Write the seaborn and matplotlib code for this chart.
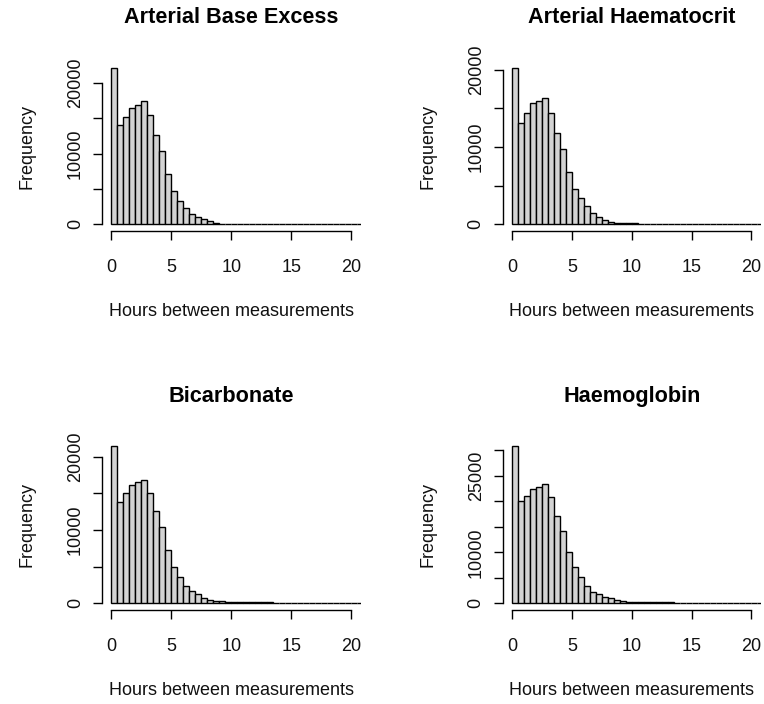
import numpy as np
import pandas as pd
import matplotlib
matplotlib.use("Agg")
import matplotlib.pyplot as plt
import seaborn as sns

sns.set_style("white")
plt.rcParams["font.family"] = ["Liberation Sans", "DejaVu Sans"]

# Histogram bins: half-hour intervals from 0 to 21 hours
bin_width = 0.5
bin_range = (0, 21)
bin_mids = np.arange(0.25, 21, 0.5)
n_bins = len(bin_mids)

titles = ["Arterial Base Excess", "Arterial Haematocrit", "Bicarbonate", "Haemoglobin"]

# Counts per half-hour bin (leading bins; remaining bins are empty)
counts_base_excess = [22100, 14000, 15200, 16400, 16900, 17400, 15400, 12600, 10400, 7130,
                      4770, 3300, 2360, 1460, 990, 710, 425, 240, 120, 80]
counts_haematocrit = [20250, 13100, 14400, 15650, 16000, 16330, 14400, 11770, 9740, 6810,
                      4610, 3360, 2370, 1470, 990, 600, 345, 220, 180, 150, 130, 120, 110]
counts_bicarbonate = [21450, 13860, 15000, 16180, 16540, 16900, 15090, 12540, 10360, 7270,
                      5000, 3640, 2410, 1640, 1230, 770, 500, 360, 330, 200, 180, 160,
                      150, 140, 130, 120, 110]
counts_haemoglobin = [30800, 19990, 21100, 22400, 22730, 23320, 20830, 17160, 14080, 10150,
                      7140, 5170, 3470, 2290, 1770, 1310, 980, 720, 460, 300, 250, 220,
                      200, 190, 180, 170, 160]

all_counts = [counts_base_excess, counts_haematocrit, counts_bicarbonate, counts_haemoglobin]

y_ticks = [
    [0, 5000, 10000, 15000, 20000],
    [0, 5000, 10000, 15000, 20000],
    [0, 5000, 10000, 15000, 20000],
    [0, 5000, 10000, 15000, 20000, 25000, 30000],
]
y_tick_labels = [
    ["0", "", "10000", "", "20000"],
    ["0", "", "10000", "", "20000"],
    ["0", "", "10000", "", "20000"],
    ["0", "", "10000", "", "", "25000", ""],
]
x_ticks = [0, 5, 10, 15, 20]
x_tick_labels = ["0", "5", "10", "15", "20"]

W, H = 764, 704
fig = plt.figure(figsize=(W / 100, H / 100), dpi=100)
fig.patch.set_facecolor("white")

# plot regions in pixels: (left, right, top, bottom)
boxes = [
    (101.7, 360.7, 61.5, 230.7),
    (502.5, 761.0, 61.5, 230.7),
    (101.7, 360.7, 440.0, 609.5),
    (502.5, 761.0, 440.0, 609.5),
]
label_size = 13
title_size = 15.6
ylabel_offset_px = -74.7   # "Frequency" centre, left of the plot region
title_offset_px = 43.8     # title centre, above the plot region

for i in range(4):
    l, r, t, b = boxes[i]
    ax = fig.add_axes([l / W, 1 - b / H, (r - l) / W, (b - t) / H])
    counts = list(all_counts[i]) + [0] * (n_bins - len(all_counts[i]))
    df = pd.DataFrame({"hours": bin_mids, "count": np.asarray(counts, dtype=float)})
    sns.histplot(data=df, x="hours", weights="count", binwidth=bin_width,
                 binrange=bin_range, ax=ax, color="#D3D3D3", alpha=1.0,
                 edgecolor="black", linewidth=1.0)
    ymax = max(counts)
    ax.set_xlim(-0.8, 20.8)
    ax.set_ylim(-0.04 * ymax, 1.04 * ymax)

    for side in ["top", "right"]:
        ax.spines[side].set_visible(False)
    ax.spines["left"].set_bounds(y_ticks[i][0], y_ticks[i][-1])
    ax.spines["bottom"].set_bounds(0, 20)
    for side in ["left", "bottom"]:
        ax.spines[side].set_color("black")
        ax.spines[side].set_linewidth(1.0)

    ax.set_xticks(x_ticks)
    ax.set_xticklabels(x_tick_labels)
    ax.set_yticks(y_ticks[i])
    ax.set_yticklabels(y_tick_labels[i], rotation=90, va="center")
    ax.tick_params(axis="both", direction="out", length=6.8, width=1.0,
                   color="black", labelsize=label_size, labelcolor="#111111",
                   left=True, bottom=True)
    ax.tick_params(axis="x", pad=13.5)
    ax.tick_params(axis="y", pad=6)
    ax.set_xlabel("")
    ax.set_ylabel("")
    ax.grid(False)

    ax.text(0.5, -0.479, "Hours between measurements", transform=ax.transAxes,
            ha="center", va="center", fontsize=label_size, color="#111111")
    ax.text(ylabel_offset_px / (r - l), 0.5, "Frequency", transform=ax.transAxes,
            ha="center", va="center", rotation=90, fontsize=label_size, color="#111111")
    ax.text(0.5, 1 + title_offset_px / (b - t), titles[i], transform=ax.transAxes,
            ha="center", va="center", fontsize=title_size, fontweight="bold",
            color="black")

fig.savefig("out.png", dpi=100, facecolor="white")
